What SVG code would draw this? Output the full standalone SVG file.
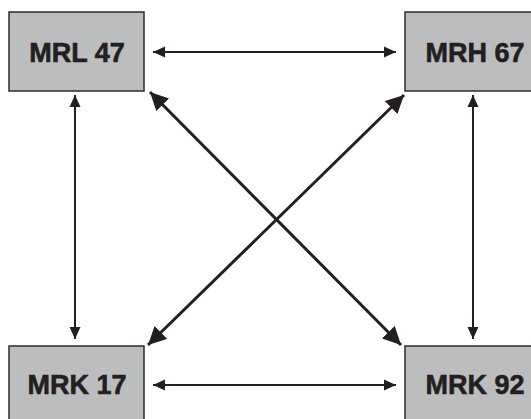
<svg xmlns="http://www.w3.org/2000/svg" width="531" height="419" viewBox="0 0 531 419">
<style>
.box{fill:#bcbdbf;stroke:#2b2b2b;stroke-width:1.5}
.lbl{font-family:"Liberation Sans",Arial,sans-serif;font-weight:bold;font-size:27px;fill:#231f20;stroke:#231f20;stroke-width:0.6;text-anchor:middle}
.thin{stroke:#231f20;stroke-width:2;fill:none}
.thick{stroke:#231f20;stroke-width:3;fill:none}
</style>
<defs>
<marker id="as" markerUnits="userSpaceOnUse" markerWidth="14" markerHeight="12" refX="12" refY="6" orient="auto-start-reverse">
<path d="M0,0.5 L12,6 L0,11.5 Z" fill="#231f20"/>
</marker>
<marker id="al" markerUnits="userSpaceOnUse" markerWidth="20" markerHeight="18" refX="18" refY="9" orient="auto-start-reverse">
<path d="M0,0 L18,9 L0,18 Z" fill="#231f20"/>
</marker>
</defs>
<g id="n1"><rect class="box" x="9" y="12" width="135" height="79"/><text class="lbl" x="77" y="62">MRL 47</text></g>
<g id="n2"><rect class="box" x="405" y="12" width="140" height="79"/><text class="lbl" x="475" y="62">MRH 67</text></g>
<g id="n3"><rect class="box" x="9" y="346" width="135" height="90"/><text class="lbl" x="77" y="394">MRK 17</text></g>
<g id="n4"><rect class="box" x="405" y="346" width="140" height="90"/><text class="lbl" x="475" y="394">MRK 92</text></g>
<g id="edges">
<line class="thin" x1="153" y1="52" x2="396" y2="52" marker-start="url(#as)" marker-end="url(#as)"/>
<line class="thin" x1="153" y1="385" x2="396" y2="385" marker-start="url(#as)" marker-end="url(#as)"/>
<line class="thin" x1="75" y1="95" x2="75" y2="339" marker-start="url(#as)" marker-end="url(#as)"/>
<line class="thin" x1="473" y1="95" x2="473" y2="339" marker-start="url(#as)" marker-end="url(#as)"/>
<line class="thick" x1="150" y1="92" x2="401" y2="345" marker-start="url(#al)" marker-end="url(#al)"/>
<line class="thick" x1="404" y1="95" x2="148" y2="345" marker-start="url(#al)" marker-end="url(#al)"/>
</g>
</svg>
